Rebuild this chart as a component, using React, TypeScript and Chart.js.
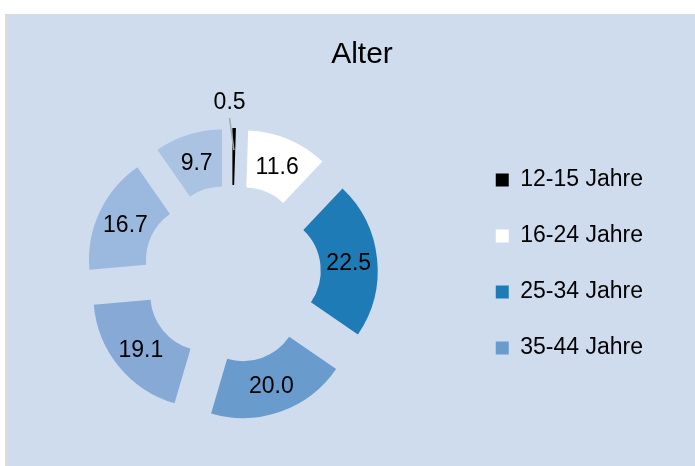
import React, { useEffect, useRef } from 'react';
import { Chart, registerables } from 'chart.js';

Chart.register(...registerables);

const chartTitle = 'Alter';
const categories = ['12-15 Jahre', '16-24 Jahre', '25-34 Jahre', '35-44 Jahre', '45-54 Jahre', '55-64 Jahre', '65+ Jahre'];
const values = [0.5, 11.6, 22.5, 20.0, 19.1, 16.7, 9.7];
const colors = ['#000000', '#FFFFFF', '#1F7BB6', '#699BCC', '#86A9D6', '#9BB8DF', '#AAC3E3'];
const legendCount = 4;

const FONT = "'Liberation Sans', Arial, Helvetica, sans-serif";
const EXPLODE = 33;

const explodePlugin = {
  id: 'explode',
  beforeDatasetDraw(chart: any, args: any) {
    const ctx = chart.ctx;
    const meta = args.meta;
    meta.data.forEach((el: any) => {
      const mid = (el.startAngle + el.endAngle) / 2;
      ctx.save();
      ctx.translate(Math.cos(mid) * EXPLODE, Math.sin(mid) * EXPLODE);
      el.draw(ctx);
      ctx.restore();
    });
    return false;
  },
  afterDatasetsDraw(chart: any) {
    const ctx = chart.ctx;
    const meta = chart.getDatasetMeta(0);
    ctx.save();
    ctx.font = `23px ${FONT}`;
    ctx.fillStyle = '#000';
    ctx.textAlign = 'center';
    ctx.textBaseline = 'alphabetic';
    meta.data.forEach((el: any, i: number) => {
      const mid = (el.startAngle + el.endAngle) / 2;
      const v = values[i];
      const txt = v.toFixed(1);
      if (v < 2) {
        const rLab = el.outerRadius + EXPLODE + 27;
        const lx = el.x + Math.cos(mid) * rLab - 5;
        const ly = el.y + Math.sin(mid) * rLab;
        const rEnd = el.outerRadius + EXPLODE - 22;
        ctx.strokeStyle = '#A6A6A6';
        ctx.lineWidth = 1.5;
        ctx.beginPath();
        ctx.moveTo(lx, ly + 17);
        ctx.lineTo(el.x + Math.cos(mid) * rEnd, el.y + Math.sin(mid) * rEnd);
        ctx.stroke();
        ctx.fillText(txt, lx, ly + 8.2);
      } else {
        const r = (el.innerRadius + el.outerRadius) / 2 + EXPLODE;
        ctx.fillText(txt, el.x + Math.cos(mid) * r, el.y + Math.sin(mid) * r + 8.2);
      }
    });
    ctx.font = `30px ${FONT}`;
    ctx.fillText(chartTitle, 362, 49.3);
    ctx.restore();
  },
};

export default function App() {
  const ref = useRef<HTMLCanvasElement | null>(null);
  useEffect(() => {
    document.body.style.margin = '0';
    if (!ref.current) return;
    const chart = new Chart(ref.current, {
      type: 'doughnut',
      data: {
        labels: categories,
        datasets: [{ data: values, backgroundColor: colors, borderWidth: 0 }],
      },
      options: {
        animation: false,
        responsive: false,
        maintainAspectRatio: false,
        radius: 113,
        cutout: '49.6%',
        layout: { padding: { left: 1, right: 42, top: 121.5, bottom: 53.5 } },
        plugins: {
          legend: {
            position: 'right',
            align: 'start',
            labels: {
              boxWidth: 13,
              boxHeight: 13,
              padding: 33,
              color: '#000',
              font: { size: 23, family: FONT },
              filter: (item: any) => item.index < legendCount,
            },
          },
          tooltip: { enabled: false },
          title: { display: false },
        },
      } as any,
      plugins: [explodePlugin as any],
    });
    return () => chart.destroy();
  }, []);
  return (
    <div style={{ position: 'relative', width: 695, height: 466, overflow: 'hidden', background: '#FFFFFF' }}>
      <div
        style={{
          position: 'absolute',
          left: 5,
          top: 14,
          width: 700,
          height: 460,
          background: '#CFDCEE',
          borderLeft: '2px solid #DADADA',
          borderTop: '1px solid #DADADA',
          boxSizing: 'border-box',
        }}
      />
      <canvas ref={ref} width={695} height={452} style={{ position: 'absolute', left: 0, top: 14, display: 'block' }} />
    </div>
  );
}
